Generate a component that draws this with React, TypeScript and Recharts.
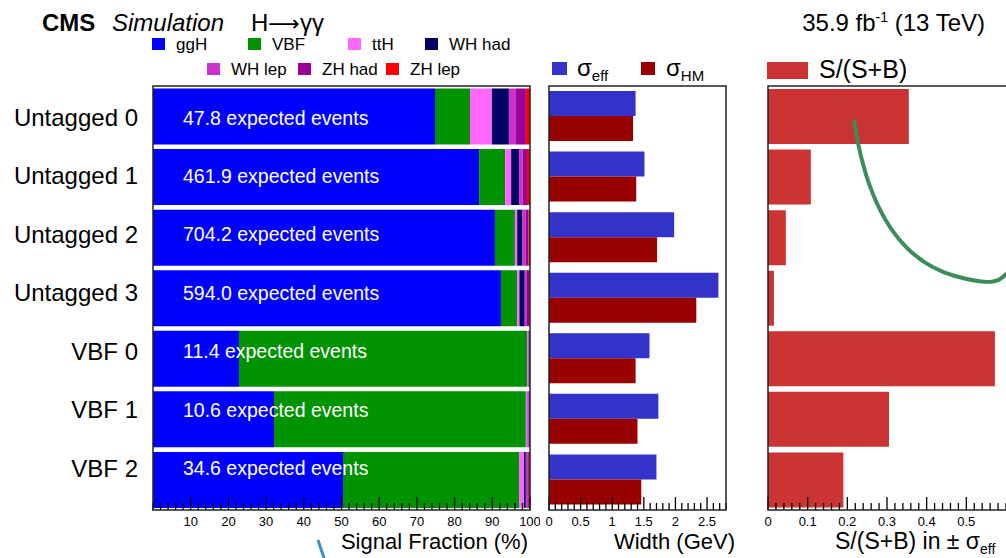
import React from "react"
import { BarChart, Bar, XAxis, YAxis, LabelList } from "recharts"

const categories = ["Untagged 0", "Untagged 1", "Untagged 2", "Untagged 3", "VBF 0", "VBF 1", "VBF 2"]
const expectedEvents = [47.8, 461.9, 704.2, 594.0, 11.4, 10.6, 34.6]

const processNames = ["ggH", "VBF", "ttH", "WH had", "WH lep", "ZH had", "ZH lep"]
const processKeys = ["ggH", "VBF", "ttH", "WHhad", "WHlep", "ZHhad", "ZHlep"]
const processColors = ["#0000ff", "#009300", "#ff66ff", "#000066", "#cc33cc", "#990099", "#ff0000"]

// signal fraction (%) per production mode
const ggH = [74.8, 86.5, 90.7, 92.3, 22.8, 32.1, 50.4]
const vbf = [9.3, 6.9, 5.3, 4.3, 76.4, 66.8, 46.7]
const ttH = [5.8, 1.6, 0.6, 0.6, 0.4, 0.5, 1.3]
const whHad = [4.5, 2.1, 1.3, 1.4, 0.1, 0.2, 0.5]
const whLep = [1.9, 1.0, 1.0, 0.6, 0.1, 0.2, 0.4]
const zhHad = [2.6, 1.1, 0.7, 0.6, 0.2, 0.2, 0.4]
const zhLep = [1.1, 0.8, 0.4, 0.2, 0.0, 0.0, 0.3]

// widths (GeV)
const sigmaEff = [1.37, 1.51, 1.98, 2.68, 1.59, 1.73, 1.70]
const sigmaHM = [1.33, 1.38, 1.71, 2.33, 1.37, 1.40, 1.46]

// S/(S+B) in +- sigma_eff
const sOverSB = [0.355, 0.108, 0.045, 0.015, 0.572, 0.305, 0.19]

// tick labels
const fractionTicks = [10, 20, 30, 40, 50, 60, 70, 80, 90, 100]
const widthTicks = [0, 0.5, 1, 1.5, 2, 2.5]
const sbTicks = [0, 0.1, 0.2, 0.3, 0.4, 0.5]

const FONT = '"Liberation Sans", Arial, Helvetica, sans-serif'
const H = 558
const PLOT_TOP = 86
const PLOT_BOTTOM = 510
const AXIS_H = 30
const MARGIN_BOTTOM = H - PLOT_BOTTOM - AXIS_H

const processSeries = [ggH, vbf, ttH, whHad, whLep, zhHad, zhLep]

const rows = categories.map((cat, i) => {
  const row: Record<string, any> = { cat, events: expectedEvents[i], sigmaEff: sigmaEff[i], sigmaHM: sigmaHM[i], sb: sOverSB[i] }
  processKeys.forEach((k, j) => (row[k] = processSeries[j][i]))
  return row
})

// ROOT style: labels follow a slightly tighter spacing than the bands
const labelShift = (i: number) => 1 - 2.1 * i

function withMinor(majors: number[], step: number, from: number, to: number) {
  const out: number[] = []
  const n = Math.round((to - from) / step)
  for (let i = 0; i <= n; i++) out.push(Number((from + i * step).toFixed(4)))
  return Array.from(new Set([...out, ...majors])).sort((a, b) => a - b)
}

function makeTick(majors: number[]) {
  return (props: any) => {
    const { x, payload } = props
    const v = payload.value
    const isMajor = majors.some((m) => Math.abs(m - v) < 1e-6)
    return (
      <g>
        <line x1={x} x2={x} y1={PLOT_BOTTOM} y2={PLOT_BOTTOM - (isMajor ? 13 : 7)} stroke="#000" strokeWidth={1.3} />
        {isMajor && (
          <text x={x} y={PLOT_BOTTOM + 16} textAnchor="middle" fontSize={13} fill="#000">
            {String(v)}
          </text>
        )}
      </g>
    )
  }
}

const CategoryTick = (props: any) => {
  const { y, payload, index } = props
  return (
    <text x={138} y={y + labelShift(index ?? 0)} textAnchor="end" dominantBaseline="central" fontSize={24} fill="#000">
      {payload.value}
    </text>
  )
}

const EventsLabel = (props: any) => {
  const { x, y, height, value, index } = props
  return (
    <text x={x + 30} y={y + height / 2 + labelShift(index ?? 0)} dominantBaseline="central" fontSize={19.5} fill="#fff">
      {Number(value).toFixed(1)} expected events
    </text>
  )
}

const legendRow1 = [152, 248, 348, 425]
const legendRow2 = [207, 298, 386]

export default function App() {
  return (
    <div style={{ position: "absolute", left: 0, top: 0, width: 1006, height: H, overflow: "hidden", background: "#fff", fontFamily: FONT }}>
      <div style={{ position: "absolute", left: 0, top: 0 }}>
        <BarChart width={540} height={H} data={rows} layout="vertical" barCategoryGap={2.5} margin={{ top: PLOT_TOP, right: 10, bottom: MARGIN_BOTTOM, left: 0 }}>
          <YAxis type="category" dataKey="cat" width={153} axisLine={false} tickLine={false} tick={CategoryTick} />
          {processKeys.map((k, j) => (
            <Bar key={k} dataKey={k} stackId="s" fill={processColors[j]} isAnimationActive={false}>
              {j === 0 && <LabelList dataKey="events" content={EventsLabel} />}
            </Bar>
          ))}
          <XAxis type="number" domain={[0, 100]} height={AXIS_H} ticks={withMinor(fractionTicks, 2, 0, 100)} interval={0} axisLine={false} tickLine={false} tick={makeTick(fractionTicks)} />
        </BarChart>
      </div>

      <div style={{ position: "absolute", left: 540, top: 0 }}>
        <BarChart width={196} height={H} data={rows} layout="vertical" barCategoryGap={5} barGap={0} margin={{ top: PLOT_TOP, right: 10, bottom: MARGIN_BOTTOM, left: 9 }}>
          <YAxis type="category" dataKey="cat" hide />
          <Bar dataKey="sigmaEff" fill="#3333cc" isAnimationActive={false} />
          <Bar dataKey="sigmaHM" fill="#990000" isAnimationActive={false} />
          <XAxis type="number" domain={[0, 2.8]} height={AXIS_H} ticks={withMinor(widthTicks, 0.1, 0, 2.8)} interval={0} axisLine={false} tickLine={false} tick={makeTick(widthTicks)} />
        </BarChart>
      </div>

      <div style={{ position: "absolute", left: 760, top: 0 }}>
        <BarChart width={256} height={H} data={rows} layout="vertical" barCategoryGap={3} margin={{ top: PLOT_TOP, right: 10, bottom: MARGIN_BOTTOM, left: 8 }}>
          <YAxis type="category" dataKey="cat" hide />
          <Bar dataKey="sb" fill="#cc3333" isAnimationActive={false} />
          <XAxis type="number" domain={[0, 0.6]} height={AXIS_H} ticks={withMinor(sbTicks, 0.02, 0, 0.6)} interval={0} axisLine={false} tickLine={false} tick={makeTick(sbTicks)} />
        </BarChart>
      </div>

      <svg width={1006} height={H} style={{ position: "absolute", left: 0, top: 0, pointerEvents: "none", fontFamily: FONT }}>
        {/* frames */}
        <rect x={153} y={PLOT_TOP} width={377} height={PLOT_BOTTOM - PLOT_TOP} fill="none" stroke="#222" strokeWidth={1.5} />
        <rect x={549} y={PLOT_TOP} width={177} height={PLOT_BOTTOM - PLOT_TOP} fill="none" stroke="#222" strokeWidth={1.5} />
        <rect x={768} y={PLOT_TOP} width={260} height={PLOT_BOTTOM - PLOT_TOP} fill="none" stroke="#222" strokeWidth={1.5} />

        {/* header */}
        <text x={42} y={31} fontSize={24} fontWeight="bold">CMS</text>
        <text x={112} y={31} fontSize={24} fontStyle="italic">Simulation</text>
        <text x={251} y={31} fontSize={24}>
          H<tspan fontFamily='"DejaVu Sans", sans-serif' fontSize={22}>⟶</tspan>γγ
        </text>
        <text x={985} y={31} fontSize={24} textAnchor="end">
          35.9 fb<tspan fontSize={14} dy={-9}>-1</tspan>
          <tspan dy={9}> (13 TeV)</tspan>
        </text>

        {/* process legend */}
        {processNames.map((name, j) => {
          const first = j < 4
          const x = first ? legendRow1[j] : legendRow2[j - 4]
          const y = first ? 38 : 63
          return (
            <g key={name}>
              <rect x={x} y={y} width={13} height={12} fill={processColors[j]} />
              <text x={x + 24} y={y + 12} fontSize={17}>{name}</text>
            </g>
          )
        })}

        {/* width legend */}
        <rect x={552} y={62} width={15} height={13} fill="#3333cc" />
        <text x={577} y={76} fontSize={24}>
          σ<tspan fontSize={15} dy={5}>eff</tspan>
        </text>
        <rect x={641} y={62} width={14} height={13} fill="#990000" />
        <text x={666} y={76} fontSize={24}>
          σ<tspan fontSize={15} dy={5}>HM</tspan>
        </text>

        {/* S/(S+B) legend */}
        <rect x={767} y={62} width={41} height={17} fill="#cc3333" />
        <text x={819} y={78} fontSize={25}>S/(S+B)</text>

        {/* axis titles */}
        <text x={528} y={549} fontSize={22} textAnchor="end">Signal Fraction (%)</text>
        <text x={735} y={549} fontSize={22} textAnchor="end">Width (GeV)</text>
        <text x={835} y={549} fontSize={23}>
          S/(S+B) in ± σ<tspan fontSize={14} dy={5}>eff</tspan>
        </text>

        {/* stray pen marks on the original */}
        <path d="M 854 120 C 868 215, 905 262, 955 276 S 1000 275, 1010 272" fill="none" stroke="#3d8c5a" strokeWidth={4} />
        <path d="M 318 540 L 324 558" fill="none" stroke="#3a8fd0" strokeWidth={3} />
      </svg>
    </div>
  )
}
